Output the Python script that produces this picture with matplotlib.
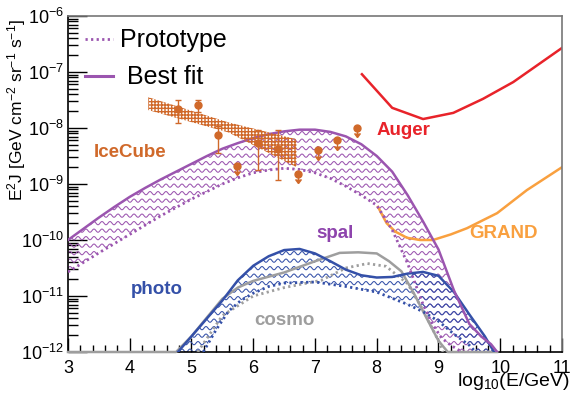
import numpy as np
import matplotlib
matplotlib.use("Agg")
import matplotlib.pyplot as plt
from matplotlib.collections import LineCollection
from matplotlib.lines import Line2D

plt.rcParams['font.family'] = ['Liberation Sans', 'DejaVu Sans']
plt.rcParams['mathtext.fontset'] = 'custom'
plt.rcParams['mathtext.rm'] = 'Liberation Sans'
plt.rcParams['mathtext.it'] = 'Liberation Sans:italic'
plt.rcParams['mathtext.bf'] = 'Liberation Sans:bold'
plt.rcParams['hatch.linewidth'] = 1.0

# spal (best fit = solid, prototype = dotted), log10 of E^2 J
spal_best_x = [3.0, 3.25, 3.5, 3.75, 4.0, 4.25, 4.5, 4.75, 5.0, 5.25, 5.5, 5.75, 6.0, 6.25, 6.5,
               6.75, 7.0, 7.25, 7.5, 7.75, 8.0, 8.25, 8.5, 8.75, 9.0, 9.25, 9.5, 9.7, 9.85, 9.95]
spal_best_y = [-10.0, -9.8, -9.6, -9.41, -9.23, -9.07, -8.92, -8.78, -8.64, -8.5, -8.37, -8.27, -8.18, -8.11, -8.06,
               -8.03, -8.03, -8.07, -8.15, -8.29, -8.5, -8.78, -9.2, -9.67, -10.17, -10.9, -11.5, -11.73, -11.86, -12.0]
spal_proto_x = [3.0, 3.5, 4.0, 4.5, 5.0, 5.5, 5.75, 6.0, 6.25, 6.5, 6.75, 7.0, 7.25, 7.5, 7.75,
                8.0, 8.25, 8.5, 8.75, 8.9, 9.05, 9.2, 9.38]
spal_proto_y = [-10.57, -10.23, -9.9, -9.57, -9.27, -9.0, -8.89, -8.8, -8.75, -8.72, -8.74, -8.8, -8.9, -9.04, -9.2,
                -9.38, -9.82, -10.42, -11.15, -11.5, -11.75, -11.88, -12.0]

# photo
photo_best_x = [4.78, 5.0, 5.25, 5.5, 5.75, 6.0, 6.25, 6.5, 6.75, 7.0, 7.25, 7.5, 7.75, 8.0, 8.25, 8.5, 8.75, 9.0, 9.25, 9.5, 9.75, 9.9]
photo_best_y = [-12.0, -11.72, -11.4, -11.08, -10.72, -10.46, -10.29, -10.18, -10.16, -10.24, -10.38, -10.53, -10.63, -10.67, -10.66, -10.6, -10.57, -10.64, -10.93, -11.33, -11.72, -12.0]
photo_proto_x = [5.19, 5.4, 5.6, 5.8, 6.0, 6.25, 6.5, 7.0, 7.5, 8.0, 8.5, 8.75, 9.0, 9.25, 9.5, 9.6]
photo_proto_y = [-12.0, -11.6, -11.27, -11.08, -10.95, -10.83, -10.77, -10.75, -10.83, -10.93, -11.15, -11.28, -11.45, -11.68, -11.88, -12.0]

# cosmo
cosmo_best_x = [3, 4.75, 5.0, 5.2, 5.5, 5.75, 6.0, 6.5, 7.0, 7.4, 7.7, 8.0, 8.2, 8.4, 8.6, 8.8, 9.0, 9.15, 9.95]
cosmo_best_y = [-12, -12, -11.72, -11.45, -11.05, -10.85, -10.73, -10.58, -10.38, -10.23, -10.22, -10.24, -10.38, -10.56, -10.95, -11.38, -11.8, -12, -12]
cosmo_proto_x = [5.1, 5.5, 6.0, 6.5, 7.1, 7.5, 7.85, 8.15, 8.5, 8.75, 9.0, 9.07]
cosmo_proto_y = [-12, -11.35, -11.0, -10.85, -10.72, -10.5, -10.42, -10.47, -10.78, -11.25, -11.8, -12]

# sensitivities
auger_x = [7.76, 8.25, 8.75, 9.24, 9.72, 10.21, 11.0]
auger_y = [-7.04, -7.64, -7.84, -7.73, -7.48, -7.18, -6.57]
grand_x = [8.02, 8.16, 8.3, 8.49, 8.7, 8.91, 9.2, 9.46, 9.95, 10.43, 11.0]
grand_y = [-9.41, -9.7, -9.85, -9.96, -10.0, -10.0, -9.9, -9.79, -9.52, -9.11, -8.70]

# IceCube band and points
ic_band_x = [4.3, 5.6, 6.7]
ic_band_hi = [-7.45, -7.9, -8.2]
ic_band_lo = [-7.68, -8.08, -8.7]
ic_x = [4.78, 5.11, 5.43, 6.08, 6.40]
ic_y = [-7.66, -7.59, -8.13, -8.27, -8.38]
ic_hi = [-7.50, -7.50, -7.97, -8.04, -8.04]
ic_lo = [-7.91, -7.71, -8.45, -8.75, -8.93]
ic_ul_x = [5.74, 6.72, 7.05, 7.36, 7.68]
ic_ul_y = [-8.68, -8.82, -8.39, -8.21, -8.0]
ic_ul_end = [-8.84, -8.98, -8.57, -8.39, -8.16]

PURPLE = '#9B55AF'
BLUE = '#3450A8'
GRAY = '#9E9E9E'
ORANGE = '#D0692A'
RED = '#E8232A'
GOLD = '#F9A03F'

def p(v):
    return 10 ** np.asarray(v, dtype=float)

def wavy_hatch(ax, patch, color):
    # horizontal sine rows clipped to the band
    t = np.linspace(0, 1, 3000)
    segs = []
    for y0 in np.arange(0.004, 1, 7.5 / 336):
        segs.append(np.column_stack([t, y0 + 1.6 / 336 * np.sin(2 * np.pi * t * 494 / 8)]))
    lc = LineCollection(segs, colors=color, linewidths=0.75, transform=ax.transAxes)
    ax.add_collection(lc, autolim=False)
    lc.set_clip_path(patch)

fig = plt.figure(figsize=(5.71, 3.94), dpi=100)
ax = fig.add_axes([68 / 571, 42 / 394, 494 / 571, 336 / 394])
ax.set_yscale('log')
ax.set_xlim(3, 11)
ax.set_ylim(1e-12, 1e-6)

# bands
spal_band = ax.fill(np.concatenate([spal_best_x, spal_proto_x[::-1]]),
                    p(np.concatenate([spal_best_y, spal_proto_y[::-1]])),
                    facecolor='none', edgecolor='none')[0]
wavy_hatch(ax, spal_band, PURPLE)
photo_band = ax.fill(np.concatenate([photo_best_x, photo_proto_x[::-1]]),
                     p(np.concatenate([photo_best_y, photo_proto_y[::-1]])),
                     facecolor='none', edgecolor='none')[0]
wavy_hatch(ax, photo_band, BLUE)

dots = (0, (0.8, 1.2))
ax.plot(cosmo_best_x, p(cosmo_best_y), color=GRAY, lw=1.8, clip_on=False, zorder=3)
ax.plot(cosmo_proto_x, p(cosmo_proto_y), color=GRAY, lw=2.0, ls=dots, zorder=3)
ax.plot(photo_best_x, p(photo_best_y), color=BLUE, lw=1.8, zorder=4)
ax.plot(photo_proto_x, p(photo_proto_y), color=BLUE, lw=2.0, ls=dots, zorder=4)
ax.plot(spal_best_x, p(spal_best_y), color=PURPLE, lw=1.8, zorder=4)
ax.plot(spal_proto_x, p(spal_proto_y), color=PURPLE, lw=2.0, ls=dots, zorder=4)

ax.plot(auger_x, p(auger_y), color=RED, lw=1.8)
ax.plot(grand_x, p(grand_y), color=GOLD, lw=1.8)

# IceCube
ax.fill(np.concatenate([ic_band_x, ic_band_x[::-1]]),
        p(np.concatenate([ic_band_hi, ic_band_lo[::-1]])),
        facecolor='none', edgecolor=ORANGE, hatch='+++++', linewidth=0, zorder=5)
ic_yv = p(ic_y)
ax.errorbar(ic_x, ic_yv, yerr=[ic_yv - p(ic_lo), p(ic_hi) - ic_yv], fmt='o', color=ORANGE,
            ms=5, elinewidth=1, capsize=2, capthick=1, zorder=6)
ax.vlines(ic_ul_x, p(ic_ul_end), p(ic_ul_y), color=ORANGE, lw=1, zorder=6)
ax.plot(ic_ul_x, p(ic_ul_y), 'o', color=ORANGE, ms=5, zorder=6)
ax.plot(ic_ul_x, p(ic_ul_end), marker=7, ls='none', color=ORANGE, ms=4, zorder=6)

# labels
kw = dict(fontsize=13.5, fontweight='bold', ha='center', va='center')
ax.text(4.0, 10 ** -8.43, 'IceCube', color=ORANGE, **kw)
ax.text(8.44, 10 ** -8.04, 'Auger', color=RED, **kw)
ax.text(10.06, 10 ** -9.875, 'GRAND', color=GOLD, **kw)
ax.text(7.32, 10 ** -9.875, 'spal', color='#8E44AD', **kw)
ax.text(4.44, 10 ** -10.89, 'photo', color=BLUE, **kw)
ax.text(6.51, 10 ** -11.43, 'cosmo', color=GRAY, **kw)

handles = [Line2D([], [], color=PURPLE, lw=2.0, ls=dots), Line2D([], [], color=PURPLE, lw=2.2)]
ax.legend(handles, ['Prototype', ' Best fit'], loc='upper left', frameon=False, fontsize=18,
          handlelength=1.12, handletextpad=0.3, labelspacing=0.52, borderpad=0,
          borderaxespad=0, bbox_to_anchor=(0.034, 0.963))

# axes styling (ROOT look)
ax.set_xticks(range(3, 12))
ax.set_xticks(np.arange(3, 11.01, 0.2), minor=True)
ax.tick_params(which='both', direction='in', top=False, right=False, labelsize=13)
ax.tick_params(axis='x', which='major', length=10, width=1, pad=6)
ax.tick_params(axis='x', which='minor', length=5, width=1)
ax.tick_params(axis='y', which='major', length=14, width=1, pad=3)
ax.tick_params(axis='y', which='minor', length=7, width=1)
for s in ['left', 'bottom']:
    ax.spines[s].set_linewidth(1.2)
for s in ['top', 'right']:
    ax.spines[s].set_color('#777777')
    ax.spines[s].set_linewidth(1.2)

ax.set_xlabel(r'log$_{10}$(E/GeV)', fontsize=14, loc='right')
ax.xaxis.set_label_coords(1.016, -0.058)
ax.set_ylabel(r'E$^{2}$J [GeV cm$^{-2}$ sr$^{-1}$ s$^{-1}$]', fontsize=12.5, loc='top')
ax.yaxis.set_label_coords(-0.08, 0.99)

fig.savefig('out.png', dpi=100)
